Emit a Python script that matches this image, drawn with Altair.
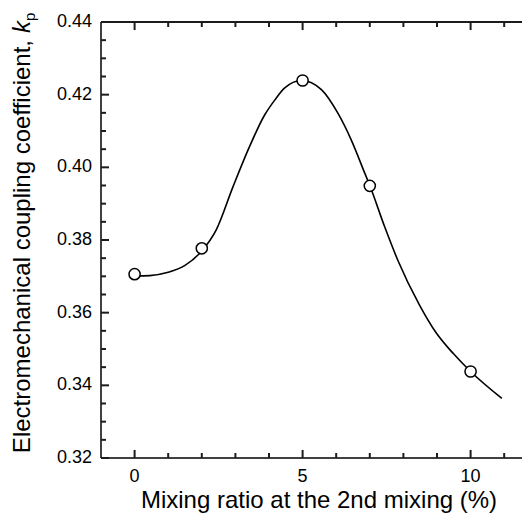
import altair as alt
import pandas as pd

FONT = "Liberation Sans"

# measured points
ratio = [0, 2, 5, 7, 10]
kp = [0.3706, 0.3777, 0.4239, 0.3949, 0.3438]

# smooth fitted curve
curve_x = [0.0, 0.45, 1.0, 1.5, 2.0, 2.43, 2.93, 3.42, 3.87, 4.17, 4.46, 4.97,
           5.56, 6.05, 6.45, 6.85, 7.0, 7.44, 7.84, 8.48, 8.98, 9.5, 10.0, 10.93]
curve_y = [0.3701, 0.3702, 0.3711, 0.3730, 0.3770, 0.3828, 0.3947, 0.4057, 0.4144,
           0.4185, 0.4218, 0.4239, 0.4214, 0.4149, 0.4075, 0.3984, 0.3950, 0.3837,
           0.3743, 0.3621, 0.3544, 0.3486, 0.3438, 0.3364]

x_major = [0, 5, 10]
x_labels = ["0", "5", "10"]
x_minor = [1, 2, 3, 4, 6, 7, 8, 9, 11]
y_major = [0.32, 0.34, 0.36, 0.38, 0.40, 0.42, 0.44]
y_labels = ["0.32", "0.34", "0.36", "0.38", "0.40", "0.42", "0.44"]
y_minor = [0.325, 0.33, 0.335, 0.345, 0.35, 0.355, 0.365, 0.37, 0.375,
           0.385, 0.39, 0.395, 0.405, 0.41, 0.415, 0.425, 0.43, 0.435]

x_title = "Mixing ratio at the 2nd mixing (%)"
y_title_main = "Electromechanical coupling coefficient,"
y_title_k = "k"
y_title_p = "p"

W, H = 421, 436
MAJ, MIN = 8, 5
LW = 1.5
TW = 2
INK = "#000000"
TICK = "#1c1c1c"

pts = pd.DataFrame({"x": ratio, "y": kp})
curve = pd.DataFrame({"x": curve_x, "y": curve_y})
xmaj = pd.DataFrame({"xm": x_major, "t": x_labels})
xmin = pd.DataFrame({"xn": x_minor})
ymaj = pd.DataFrame({"ym": y_major, "t": y_labels})
ymin = pd.DataFrame({"yn": y_minor})

xs = alt.Scale(domain=[-1, 11.53], nice=False, zero=False)
ys = alt.Scale(domain=[0.32, 0.44], nice=False, zero=False)

line = alt.Chart(curve).mark_line(color=INK, strokeWidth=1.6, interpolate="monotone").encode(
    x=alt.X("x:Q", scale=xs, axis=None),
    y=alt.Y("y:Q", scale=ys, axis=None),
)

points = alt.Chart(pts).mark_circle(fill="white", stroke=INK, strokeWidth=1.5,
                                    size=125, opacity=1).encode(
    x=alt.X("x:Q", scale=xs, axis=None),
    y=alt.Y("y:Q", scale=ys, axis=None),
)

frame_top = alt.Chart(pd.DataFrame({"x": [-1, 11.53], "y": [0.44, 0.44]})).mark_line(
    color=TICK, strokeWidth=TW).encode(
    x=alt.X("x:Q", scale=xs, axis=None), y=alt.Y("y:Q", scale=ys, axis=None))
frame = alt.Chart(pd.DataFrame({"x": [-1, 11.53], "y": [0.32, 0.32]})).mark_line(
    color=INK, strokeWidth=LW).encode(
    x=alt.X("x:Q", scale=xs, axis=None), y=alt.Y("y:Q", scale=ys, axis=None))
frame_left = alt.Chart(pd.DataFrame({"x": [-1, -1], "y": [0.32, 0.44]})).mark_line(
    color=INK, strokeWidth=LW).encode(
    x=alt.X("x:Q", scale=xs, axis=None), y=alt.Y("y:Q", scale=ys, axis=None))


def xtick(df, field, y0, y1):
    return alt.Chart(df).mark_rule(color=TICK, strokeWidth=TW).encode(
        x=alt.X(f"{field}:Q", scale=xs, axis=None), y=alt.value(y0), y2=alt.value(y1))


def ytick(df, field, length):
    return alt.Chart(df).mark_rule(color=TICK, strokeWidth=TW).encode(
        y=alt.Y(f"{field}:Q", scale=ys, axis=None), x=alt.value(0), x2=alt.value(length))


ticks = [
    xtick(xmaj, "xm", H, H - MAJ), xtick(xmin, "xn", H, H - MIN),
    xtick(xmaj, "xm", 0, MAJ), xtick(xmin, "xn", 0, MIN),
    ytick(ymaj, "ym", MAJ), ytick(ymin, "yn", MIN),
]

x_lab = alt.Chart(xmaj).mark_text(
    font=FONT, fontSize=18, align="center", baseline="top", color=INK
).encode(x=alt.X("xm:Q", scale=xs, axis=None), y=alt.value(H + 10), text="t:N")

y_lab = alt.Chart(ymaj).mark_text(
    font=FONT, fontSize=18, align="right", baseline="middle", color=INK
).encode(y=alt.Y("ym:Q", scale=ys, axis=None), x=alt.value(-9), text="t:N")

x_tit = alt.Chart(pd.DataFrame({"t": [x_title]})).mark_text(
    font=FONT, fontSize=24, align="center", baseline="alphabetic", color=INK
).encode(x=alt.value(218), y=alt.value(H + 50), text="t:N")

t_main = alt.Chart(pd.DataFrame({"t": [y_title_main]})).mark_text(
    font=FONT, fontSize=24, angle=270, align="right", baseline="alphabetic", color=INK
).encode(x=alt.value(-71), y=alt.value(18), text="t:N")

t_k = alt.Chart(pd.DataFrame({"t": [y_title_k]})).mark_text(
    font=FONT, fontSize=24, fontStyle="italic", angle=270, align="left",
    baseline="alphabetic", color=INK
).encode(x=alt.value(-71), y=alt.value(11), text="t:N")

t_p = alt.Chart(pd.DataFrame({"t": [y_title_p]})).mark_text(
    font=FONT, fontSize=15, angle=270, align="left", baseline="alphabetic", color=INK
).encode(x=alt.value(-66), y=alt.value(-1), text="t:N")

chart = alt.layer(
    line, frame_top, frame, frame_left, *ticks, points,
    x_lab, y_lab, x_tit, t_main, t_k, t_p
).properties(
    width=W, height=H,
    padding={"left": 93, "top": 14, "right": 0, "bottom": 56},
    autosize=alt.AutoSizeParams(type="none"),
    background="white",
).configure_view(stroke=None)

chart.save("out.html", embed_options={"renderer": "svg", "actions": False})
